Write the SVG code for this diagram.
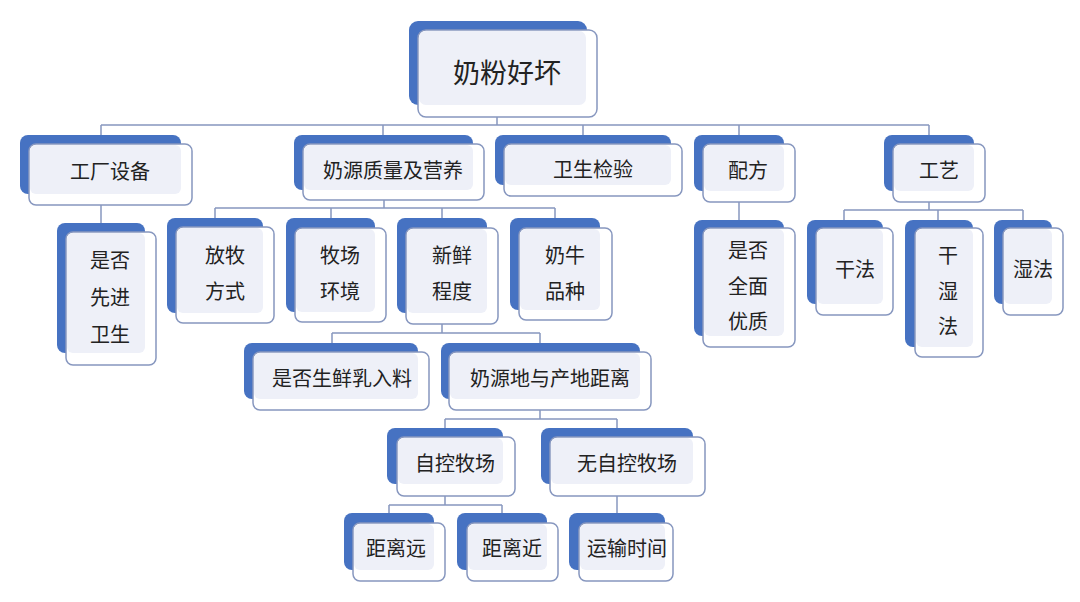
<svg xmlns="http://www.w3.org/2000/svg" width="1080" height="602" viewBox="0 0 1080 602">
<style>
.b{fill:#4672c2}
.f{fill:#ffffff;stroke:#8797bf;stroke-width:1.5}
.l{fill:#eef0f8}
.t{font-family:"Noto Sans CJK SC","Noto Sans",sans-serif;font-size:20px;fill:#222;text-anchor:middle}
.c{fill:none;stroke:#8797bf;stroke-width:1.5}
</style>
<rect width="1080" height="602" fill="#ffffff"/>
<g id="connectors">
<path class="c" d="M497,117V125M101,125H929M101,125V135M383,125V135M583,125V135M739,125V135M929,125V135"/>
<path class="c" d="M101,205V223"/>
<path class="c" d="M384,200V208M215,208H555M215,208V218M331,208V218M442,208V218M555,208V218"/>
<path class="c" d="M739,202V220"/>
<path class="c" d="M929,202V210M844,210H1023M844,210V220M938,210V220M1023,210V220"/>
<path class="c" d="M442,324V333M332,333H540M332,333V343M540,333V343"/>
<path class="c" d="M540,410V419M445,419H617M445,419V428M617,419V428"/>
<path class="c" d="M445,496V505M389,505H502M389,505V513M502,505V513"/>
<path class="c" d="M617,496V513"/>
</g>
<g id="root">
<rect class="b" x="409" y="21" width="178" height="84" rx="9"/>
<rect class="f" x="418" y="30" width="179" height="87" rx="8"/>
<rect class="l" x="419" y="31" width="167" height="74" rx="7"/>
<text class="t" x="507" y="83" style="font-size:27px">奶粉好坏</text>
</g>
<g id="n-gongchang">
<rect class="b" x="20" y="135" width="161" height="59" rx="8"/>
<rect class="f" x="29" y="144" width="163" height="61" rx="7"/>
<rect class="l" x="30" y="145" width="151" height="49" rx="6"/>
<text class="t" x="110" y="179">工厂设备</text>
</g>
<g id="n-xianjin">
<rect class="b" x="57" y="223" width="88" height="130" rx="8"/>
<rect class="f" x="66" y="232" width="90" height="133" rx="7"/>
<rect class="l" x="67" y="233" width="78" height="120" rx="6"/>
<text class="t" x="110" y="268">是否</text>
<text class="t" x="110" y="305">先进</text>
<text class="t" x="110" y="342">卫生</text>
</g>
<g id="n-naiyuan">
<rect class="b" x="294" y="135" width="179" height="55" rx="8"/>
<rect class="f" x="303" y="144" width="181" height="56" rx="7"/>
<rect class="l" x="304" y="145" width="169" height="45" rx="6"/>
<text class="t" x="393" y="178">奶源质量及营养</text>
</g>
<g id="n-weisheng">
<rect class="b" x="495" y="135" width="176" height="50" rx="8"/>
<rect class="f" x="504" y="144" width="178" height="52" rx="7"/>
<rect class="l" x="505" y="145" width="166" height="40" rx="6"/>
<text class="t" x="593" y="177">卫生检验</text>
</g>
<g id="n-peifang">
<rect class="b" x="694" y="135" width="90" height="56" rx="8"/>
<rect class="f" x="703" y="144" width="92" height="58" rx="7"/>
<rect class="l" x="704" y="145" width="80" height="46" rx="6"/>
<text class="t" x="748" y="178">配方</text>
</g>
<g id="n-gongyi">
<rect class="b" x="884" y="135" width="90" height="56" rx="8"/>
<rect class="f" x="893" y="144" width="92" height="58" rx="7"/>
<rect class="l" x="894" y="145" width="80" height="46" rx="6"/>
<text class="t" x="939" y="178">工艺</text>
</g>
<g id="n-fangmu">
<rect class="b" x="167" y="218" width="96" height="95" rx="8"/>
<rect class="f" x="176" y="227" width="98" height="96" rx="7"/>
<rect class="l" x="177" y="228" width="86" height="85" rx="6"/>
<text class="t" x="225" y="263">放牧</text>
<text class="t" x="225" y="299">方式</text>
</g>
<g id="n-muchang">
<rect class="b" x="286" y="218" width="89" height="94" rx="8"/>
<rect class="f" x="295" y="228" width="91" height="94" rx="7"/>
<rect class="l" x="296" y="229" width="79" height="83" rx="6"/>
<text class="t" x="340" y="263">牧场</text>
<text class="t" x="340" y="299">环境</text>
</g>
<g id="n-xinxian">
<rect class="b" x="397" y="218" width="90" height="95" rx="8"/>
<rect class="f" x="406" y="228" width="92" height="96" rx="7"/>
<rect class="l" x="407" y="229" width="80" height="84" rx="6"/>
<text class="t" x="452" y="263">新鲜</text>
<text class="t" x="452" y="299">程度</text>
</g>
<g id="n-nainiu">
<rect class="b" x="510" y="218" width="90" height="92" rx="8"/>
<rect class="f" x="519" y="228" width="93" height="92" rx="7"/>
<rect class="l" x="520" y="229" width="80" height="81" rx="6"/>
<text class="t" x="565" y="263">奶牛</text>
<text class="t" x="565" y="299">品种</text>
</g>
<g id="n-quanmian">
<rect class="b" x="694" y="220" width="90" height="116" rx="8"/>
<rect class="f" x="703" y="228" width="92" height="119" rx="7"/>
<rect class="l" x="704" y="229" width="80" height="107" rx="6"/>
<text class="t" x="748" y="258">是否</text>
<text class="t" x="748" y="294">全面</text>
<text class="t" x="748" y="329">优质</text>
</g>
<g id="n-ganfa">
<rect class="b" x="807" y="220" width="76" height="84" rx="8"/>
<rect class="f" x="816" y="228" width="77" height="87" rx="7"/>
<rect class="l" x="817" y="229" width="66" height="75" rx="6"/>
<text class="t" x="855" y="277">干法</text>
</g>
<g id="n-ganshifa">
<rect class="b" x="905" y="220" width="68" height="127" rx="8"/>
<rect class="f" x="915" y="228" width="68" height="129" rx="7"/>
<rect class="l" x="916" y="229" width="57" height="118" rx="6"/>
<text class="t" x="948" y="263">干</text>
<text class="t" x="948" y="299">湿</text>
<text class="t" x="948" y="334">法</text>
</g>
<g id="n-shifa">
<rect class="b" x="994" y="220" width="58" height="84" rx="8"/>
<rect class="f" x="1003" y="228" width="60" height="87" rx="7"/>
<rect class="l" x="1004" y="229" width="48" height="75" rx="6"/>
<text class="t" x="1033" y="277">湿法</text>
</g>
<g id="n-shengxianru">
<rect class="b" x="244" y="343" width="174" height="56" rx="8"/>
<rect class="f" x="253" y="352" width="176" height="58" rx="7"/>
<rect class="l" x="254" y="353" width="164" height="46" rx="6"/>
<text class="t" x="342" y="386">是否生鲜乳入料</text>
</g>
<g id="n-juli">
<rect class="b" x="441" y="343" width="199" height="56" rx="8"/>
<rect class="f" x="449" y="352" width="202" height="58" rx="7"/>
<rect class="l" x="450" y="353" width="190" height="46" rx="6"/>
<text class="t" x="550" y="386">奶源地与产地距离</text>
</g>
<g id="n-zikong">
<rect class="b" x="387" y="428" width="116" height="56" rx="8"/>
<rect class="f" x="397" y="437" width="118" height="59" rx="7"/>
<rect class="l" x="398" y="438" width="105" height="46" rx="6"/>
<text class="t" x="455" y="471">自控牧场</text>
</g>
<g id="n-wuzikong">
<rect class="b" x="541" y="428" width="152" height="56" rx="8"/>
<rect class="f" x="550" y="437" width="155" height="59" rx="7"/>
<rect class="l" x="551" y="438" width="142" height="46" rx="6"/>
<text class="t" x="627" y="471">无自控牧场</text>
</g>
<g id="n-yuan">
<rect class="b" x="344" y="513" width="90" height="57" rx="8"/>
<rect class="f" x="353" y="523" width="92" height="58" rx="7"/>
<rect class="l" x="354" y="524" width="80" height="46" rx="6"/>
<text class="t" x="396" y="556">距离远</text>
</g>
<g id="n-jin">
<rect class="b" x="457" y="513" width="90" height="57" rx="8"/>
<rect class="f" x="467" y="523" width="91" height="58" rx="7"/>
<rect class="l" x="468" y="524" width="79" height="46" rx="6"/>
<text class="t" x="512" y="556">距离近</text>
</g>
<g id="n-yunshu">
<rect class="b" x="569" y="513" width="96" height="57" rx="8"/>
<rect class="f" x="579" y="523" width="94" height="58" rx="7"/>
<rect class="l" x="580" y="524" width="85" height="46" rx="6"/>
<text class="t" x="627" y="556">运输时间</text>
</g>
</svg>
